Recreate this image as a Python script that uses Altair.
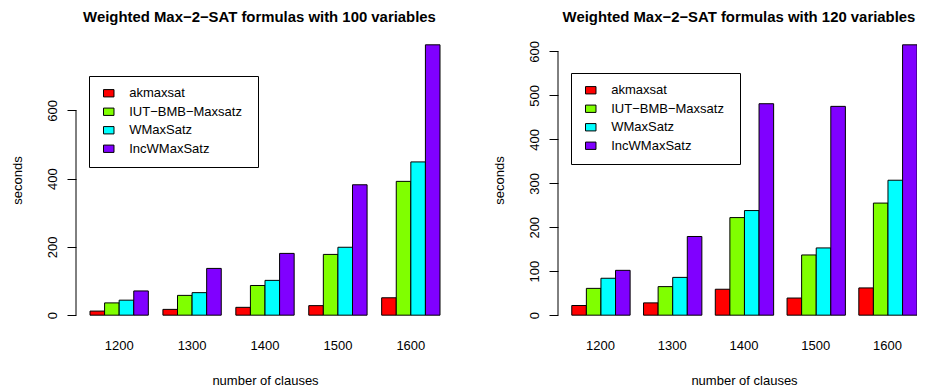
import altair as alt
import pandas as pd

# ---------------- data ----------------
groups = ["1200", "1300", "1400", "1500", "1600"]
solvers = ["akmaxsat", "IUT−BMB−Maxsatz", "WMaxSatz", "IncWMaxSatz"]
colors = ["#FF0000", "#80FF00", "#00FFFF", "#8000FF"]

ak_100 = [12, 17, 23, 28, 51]
iut_100 = [36, 58, 87, 178, 392]
wmax_100 = [44, 66, 102, 199, 449]
inc_100 = [71, 137, 181, 382, 792]

ak_120 = [22, 28, 59, 39, 62]
iut_120 = [61, 65, 222, 137, 255]
wmax_120 = [84, 86, 238, 153, 307]
inc_120 = [102, 179, 481, 475, 615]

ticks_100 = [0, 200, 400, 600]
ticks_120 = [0, 100, 200, 300, 400, 500, 600]

title_100 = "Weighted Max−2−SAT formulas with 100 variables"
title_120 = "Weighted Max−2−SAT formulas with 120 variables"
x_title = "number of clauses"
y_title = "seconds"

FONT = "Liberation Sans"
H = 292


def panel(series, ticks, title, width, title_dx, legend_y):
    rows = []
    for s, vals in zip(solvers, series):
        for g, v in zip(groups, vals):
            rows.append({"group": g, "solver": s, "value": v})
    df = pd.DataFrame(rows)
    top = max(max(v) for v in series)
    yscale = alt.Scale(domain=[-0.04 * top, 1.04 * top], nice=False, zero=False)

    y_axis = alt.Axis(
        values=ticks, title=y_title, domain=False, grid=False,
        tickSize=9, tickColor="black", tickWidth=1,
        labelAngle=-90, labelAlign="center", labelBaseline="alphabetic",
        labelPadding=11, labelFont=FONT, labelFontSize=13, labelColor="black",
        titleFont=FONT, titleFontSize=13, titleFontWeight="normal",
        titleColor="black", titleX=-55, titleY=H / 2, titleAngle=-90,
        titleBaseline="alphabetic", titleAlign="center",
    )

    axis_df = pd.DataFrame({"lo": [ticks[0]], "hi": [ticks[-1]]})
    rule = alt.Chart(axis_df).mark_rule(color="black", strokeWidth=1).encode(
        y=alt.Y("lo:Q", scale=yscale, axis=y_axis, title=y_title),
        y2="hi:Q",
        x=alt.value(0),
    )

    bars = alt.Chart(df).mark_bar(stroke="black", strokeWidth=1).encode(
        x=alt.X(
            "group:N", sort=groups,
            scale=alt.Scale(paddingInner=0.2, paddingOuter=0.192),
            axis=alt.Axis(
                title=x_title, domain=False, ticks=False, tickSize=0, labelAngle=0,
                labelPadding=23, labelBaseline="alphabetic", labelFont=FONT,
                labelFontSize=13, labelColor="black",
                titleFont=FONT, titleFontSize=13, titleFontWeight="normal",
                titleColor="black", titleY=58, titleBaseline="alphabetic",
            ),
        ),
        xOffset=alt.XOffset("solver:N", sort=solvers,
                            scale=alt.Scale(paddingInner=0, paddingOuter=0)),
        y=alt.Y("value:Q", scale=yscale, stack=None, axis=y_axis, title=y_title),
        y2=alt.datum(0),
        color=alt.Color(
            "solver:N", sort=solvers,
            scale=alt.Scale(domain=solvers, range=colors),
            legend=alt.Legend(
                title=" ", titleOrient="right", titlePadding=5,
                titleFontSize=2,
                orient="none", legendX=13, legendY=legend_y,
                strokeColor="black", padding=10.75,
                symbolType="M-1,-0.7H1V0.7H-1Z", symbolSize=110,
                symbolStrokeColor="black", symbolStrokeWidth=1,
                symbolOffset=2.5, labelOffset=14, rowPadding=4.5,
                labelFont=FONT, labelFontSize=13, labelColor="black",
            ),
        ),
    )

    return alt.layer(bars, rule).properties(
        width=width, height=H,
        title=alt.TitleParams(
            title, font=FONT, fontSize=14.9, fontWeight="bold", color="black",
            anchor="middle", frame="group", baseline="alphabetic", offset=-3,
            dx=title_dx,
        ),
    )


left = panel([ak_100, iut_100, wmax_100, inc_100], ticks_100, title_100, 378, -5.5, 42)
right = panel([ak_120, iut_120, wmax_120, inc_120], ticks_120, title_120, 372, -5, 39)

chart = alt.hconcat(left, right, spacing=39).resolve_scale(
    color="independent", y="independent", x="independent"
).resolve_legend(color="independent").configure(
    padding={"left": 3, "top": 2, "right": -13, "bottom": 0},
    background="white",
).configure_view(stroke=None)

chart.save("out.html", embed_options={"renderer": "svg", "actions": False})
